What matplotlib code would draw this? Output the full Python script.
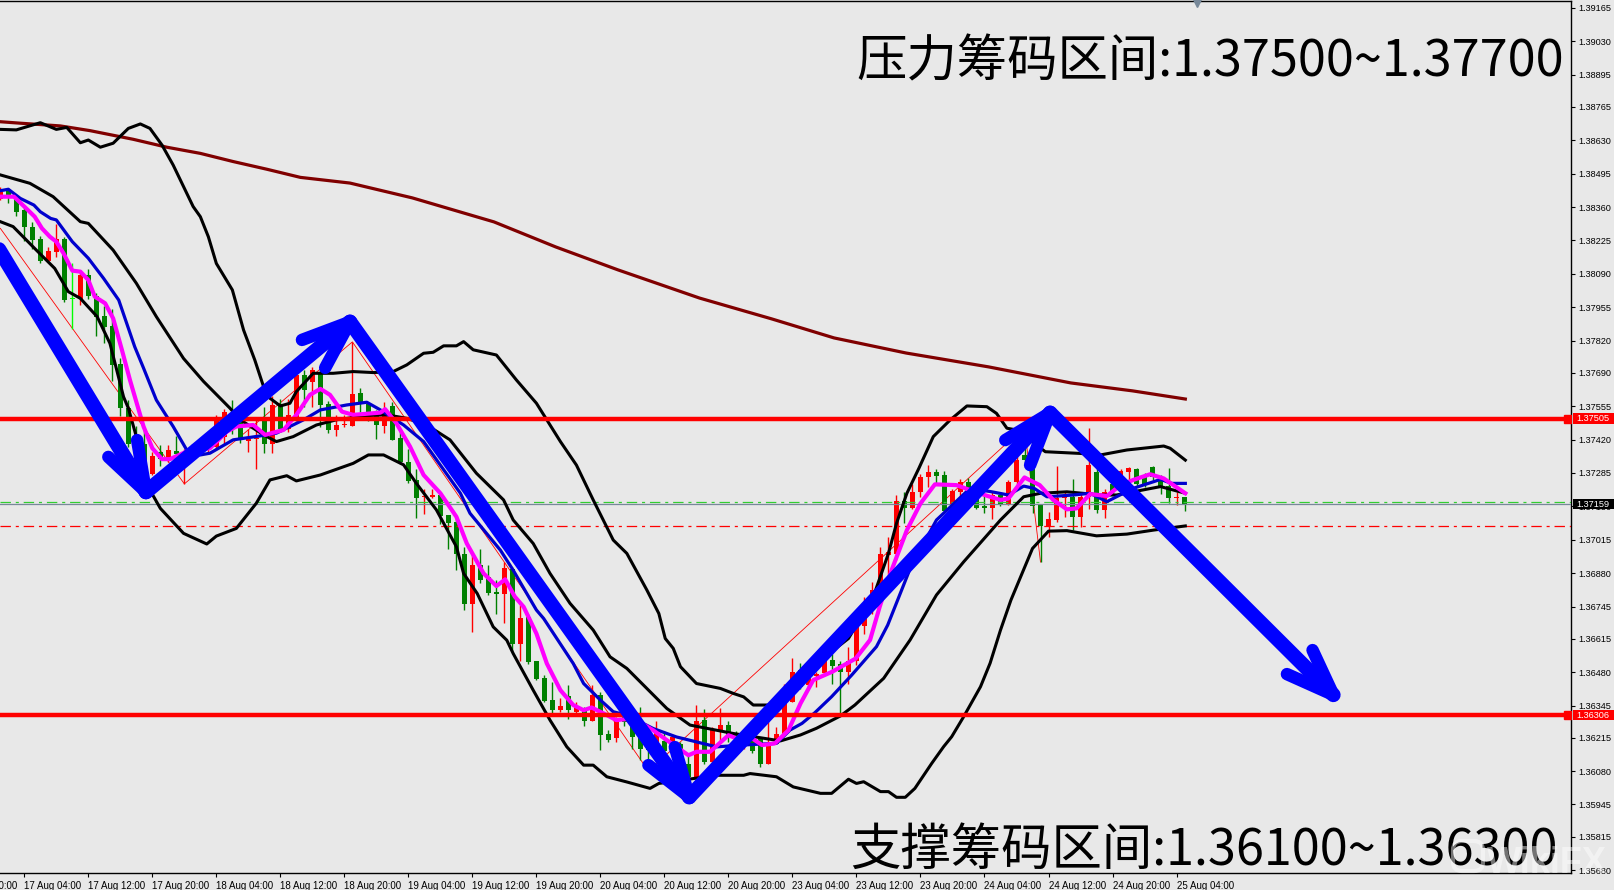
import numpy as np
import matplotlib
matplotlib.use('Agg')
import matplotlib.pyplot as plt
from matplotlib.patches import Rectangle, FancyBboxPatch
from matplotlib.transforms import blended_transform_factory

plt.rcParams['lines.scale_dashes'] = False

######################################################################
# H1 candles, first bar sits 3 bars before the 17 Aug 04:00 tick

candle_kind = ("rgggggrrgl" "rggggggggr" "grgrgrrrrg" "grrgrgrrgr" "ggrrrgggrg"
               "gggrrggggr" "gggrgrgggg" "rgrgrggrgg" "ggrgrggrgr" "rggrggrrrr"
               "grrrggrrrr" "rrrgrrrggr" "rgggrgrrgg" "grrrgrrgrg" "rrgggggrg")

body_top = [
    1.38422, 1.38429, 1.38395, 1.38348, 1.38278, 1.38231, 1.38182, 1.38231, 1.38231, 1.37992,
    1.38085, 1.38085, 1.38001, 1.37920, 1.37878, 1.37727, 1.37549, 1.37430, 1.37403, 1.37352,
    1.37369, 1.37376, 1.37372, 1.37369, 1.37390, 1.37403, 1.37396, 1.37504, 1.37531, 1.37525,
    1.37498, 1.37423, 1.37427, 1.37511, 1.37558, 1.37565, 1.37518, 1.37680, 1.37680, 1.37700,
    1.37687, 1.37562, 1.37477, 1.37484, 1.37606, 1.37610, 1.37562, 1.37531, 1.37531, 1.37554,
    1.37425, 1.37330, 1.37256, 1.37191, 1.37198, 1.37198, 1.37114, 1.37087, 1.36959, 1.36912,
    1.36912, 1.36865, 1.36802, 1.36901, 1.36898, 1.36700, 1.36703, 1.36523, 1.36457, 1.36369,
    1.36345, 1.36385, 1.36338, 1.36331, 1.36389, 1.36389, 1.36230, 1.36284, 1.36298, 1.36277,
    1.36216, 1.36176, 1.36250, 1.36203, 1.36216, 1.36190, 1.36109, 1.36284, 1.36288, 1.36250,
    1.36268, 1.36268, 1.36230, 1.36216, 1.36203, 1.36210, 1.36183, 1.36230, 1.36358, 1.36482,
    1.36490, 1.36462, 1.36473, 1.36527, 1.36530, 1.36511, 1.36527, 1.36662, 1.36730, 1.36811,
    1.36956, 1.36966, 1.37171, 1.37171, 1.37209, 1.37268, 1.37287, 1.37287, 1.37276, 1.37211,
    1.37249, 1.37249, 1.37182, 1.37151, 1.37195, 1.37195, 1.37249, 1.37337, 1.37357, 1.37317,
    1.37155, 1.37097, 1.37182, 1.37198, 1.37188, 1.37188, 1.37317, 1.37290, 1.37209, 1.37242,
    1.37292, 1.37306, 1.37303, 1.37270, 1.37309, 1.37270, 1.37232, 1.37188, 1.37186]

body_bottom = [
    1.38391, 1.38395, 1.38341, 1.38278, 1.38227, 1.38143, 1.38141, 1.38179, 1.37983, 1.37988,
    1.37988, 1.38001, 1.37916, 1.37875, 1.37723, 1.37549, 1.37403, 1.37376, 1.37288, 1.37282,
    1.37342, 1.37342, 1.37362, 1.37356, 1.37369, 1.37369, 1.37376, 1.37390, 1.37430, 1.37471,
    1.37423, 1.37414, 1.37421, 1.37403, 1.37403, 1.37464, 1.37464, 1.37511, 1.37619, 1.37653,
    1.37558, 1.37457, 1.37460, 1.37477, 1.37475, 1.37569, 1.37531, 1.37477, 1.37473, 1.37419,
    1.37330, 1.37252, 1.37184, 1.37186, 1.37188, 1.37110, 1.37083, 1.36959, 1.36754, 1.36754,
    1.36851, 1.36801, 1.36796, 1.36794, 1.36595, 1.36595, 1.36520, 1.36453, 1.36365, 1.36325,
    1.36327, 1.36325, 1.36320, 1.36284, 1.36284, 1.36227, 1.36207, 1.36214, 1.36277, 1.36216,
    1.36169, 1.36165, 1.36176, 1.36163, 1.36190, 1.36122, 1.36055, 1.36055, 1.36118, 1.36118,
    1.36246, 1.36216, 1.36190, 1.36190, 1.36160, 1.36108, 1.36108, 1.36190, 1.36226, 1.36358,
    1.36420, 1.36426, 1.36466, 1.36476, 1.36503, 1.36480, 1.36480, 1.36527, 1.36665, 1.36730,
    1.36797, 1.36952, 1.36959, 1.37144, 1.37144, 1.37209, 1.37267, 1.37272, 1.37132, 1.37128,
    1.37209, 1.37222, 1.37145, 1.37145, 1.37144, 1.37157, 1.37157, 1.37249, 1.37337, 1.37151,
    1.37071, 1.37070, 1.37094, 1.37182, 1.37107, 1.37107, 1.37188, 1.37137, 1.37137, 1.37209,
    1.37242, 1.37290, 1.37242, 1.37242, 1.37267, 1.37229, 1.37184, 1.37183, 1.37157]

wick_high = [
    1.38442, 1.38436, 1.38402, 1.38362, 1.38301, 1.38243, 1.38197, 1.38291, 1.38237, 1.38132,
    1.38102, 1.38109, 1.38011, 1.37959, 1.37946, 1.37751, 1.37581, 1.37473, 1.37457, 1.37369,
    1.37400, 1.37399, 1.37433, 1.37383, 1.37403, 1.37417, 1.37417, 1.37518, 1.37545, 1.37581,
    1.37525, 1.37464, 1.37498, 1.37552, 1.37595, 1.37585, 1.37585, 1.37687, 1.37700, 1.37713,
    1.37700, 1.37578, 1.37518, 1.37518, 1.37815, 1.37630, 1.37572, 1.37538, 1.37572, 1.37572,
    1.37457, 1.37384, 1.37303, 1.37222, 1.37222, 1.37209, 1.37114, 1.37107, 1.36986, 1.36959,
    1.36979, 1.36912, 1.36851, 1.36925, 1.36905, 1.36750, 1.36716, 1.36524, 1.36470, 1.36442,
    1.36374, 1.36426, 1.36358, 1.36338, 1.36426, 1.36401, 1.36246, 1.36298, 1.36318, 1.36291,
    1.36341, 1.36216, 1.36284, 1.36244, 1.36230, 1.36196, 1.36149, 1.36349, 1.36329, 1.36257,
    1.36334, 1.36284, 1.36244, 1.36230, 1.36230, 1.36217, 1.36284, 1.36260, 1.36432, 1.36538,
    1.36516, 1.36486, 1.36480, 1.36547, 1.36554, 1.36527, 1.36581, 1.36716, 1.36784, 1.36844,
    1.36986, 1.37026, 1.37195, 1.37209, 1.37242, 1.37279, 1.37317, 1.37303, 1.37294, 1.37222,
    1.37260, 1.37263, 1.37249, 1.37202, 1.37209, 1.37209, 1.37256, 1.37377, 1.37471, 1.37337,
    1.37159, 1.37128, 1.37313, 1.37209, 1.37260, 1.37209, 1.37465, 1.37371, 1.37222, 1.37256,
    1.37303, 1.37310, 1.37307, 1.37283, 1.37313, 1.37276, 1.37307, 1.37209, 1.37188]

wick_low = [
    1.38388, 1.38375, 1.38325, 1.38224, 1.38189, 1.38135, 1.38139, 1.38159, 1.37977, 1.37869,
    1.37963, 1.37990, 1.37839, 1.37811, 1.37657, 1.37514, 1.37390, 1.37369, 1.37281, 1.37275,
    1.37315, 1.37329, 1.37342, 1.37241, 1.37356, 1.37356, 1.37369, 1.37376, 1.37403, 1.37444,
    1.37406, 1.37369, 1.37302, 1.37365, 1.37365, 1.37450, 1.37450, 1.37497, 1.37551, 1.37551,
    1.37470, 1.37446, 1.37434, 1.37470, 1.37475, 1.37531, 1.37495, 1.37423, 1.37446, 1.37417,
    1.37320, 1.37245, 1.37103, 1.37118, 1.37182, 1.37080, 1.36979, 1.36892, 1.36730, 1.36642,
    1.36840, 1.36790, 1.36713, 1.36678, 1.36565, 1.36527, 1.36514, 1.36449, 1.36358, 1.36311,
    1.36318, 1.36291, 1.36304, 1.36264, 1.36284, 1.36167, 1.36196, 1.36196, 1.36264, 1.36169,
    1.36125, 1.36080, 1.36149, 1.36136, 1.36149, 1.36095, 1.35987, 1.36048, 1.36109, 1.36109,
    1.36203, 1.36196, 1.36176, 1.36169, 1.36152, 1.36095, 1.36108, 1.36190, 1.36226, 1.36358,
    1.36410, 1.36406, 1.36419, 1.36466, 1.36432, 1.36311, 1.36432, 1.36507, 1.36635, 1.36716,
    1.36784, 1.36864, 1.36932, 1.37083, 1.37141, 1.37188, 1.37229, 1.37236, 1.37128, 1.37121,
    1.37168, 1.37195, 1.37141, 1.37124, 1.37097, 1.37151, 1.37155, 1.37236, 1.37317, 1.37124,
    1.36925, 1.37026, 1.37087, 1.37107, 1.37053, 1.37067, 1.37141, 1.37124, 1.37103, 1.37195,
    1.37229, 1.37242, 1.37229, 1.37229, 1.37256, 1.37202, 1.37164, 1.37155, 1.37132]

######################################################################
# indicator lines, read off at the bends

upper_x = [-3, -1, 2, 4, 5.3, 7, 8, 9.5, 11.1, 13, 14.5, 15.7, 17.2, 18.6, 21.1, 22, 23, 24, 26, 27.4,
           28.8, 29.9, 30.7, 32, 33.2, 34, 36.1, 38.6, 41.1, 43.6, 46.1, 47.8, 49.9, 51.1, 52.4, 54,
           54.9, 56.1, 59, 61.5, 64, 67, 69, 71.1, 73.6, 75.3, 77.8, 79.3, 80.1, 81.1, 82, 84, 87, 88.6,
           89.9, 91.1, 93.6, 96, 100, 103, 106.1, 108, 109, 110.3, 111.8, 113.6, 115.7, 117.8, 120.3,
           121.5, 122.8, 124, 127.6, 132, 134.5, 137.8, 142.4, 143.2, 145.1]
upper_y = [1.38674, 1.38672, 1.38701, 1.38674, 1.38682, 1.38620, 1.38631, 1.38602, 1.38618, 1.38678,
           1.38696, 1.38678, 1.38611, 1.38530, 1.38362, 1.38321, 1.38240, 1.38132, 1.38025, 1.37863,
           1.37742, 1.37634, 1.37587, 1.37556, 1.37567, 1.37614, 1.37688, 1.37688, 1.37695, 1.37691,
           1.37695, 1.37722, 1.37769, 1.37773, 1.37799, 1.37799, 1.37816, 1.37783, 1.37762, 1.37661,
           1.37567, 1.37412, 1.37317, 1.37176, 1.37014, 1.36960, 1.36812, 1.36717, 1.36616, 1.36576,
           1.36502, 1.36434, 1.36414, 1.36394, 1.36380, 1.36347, 1.36347, 1.36448, 1.36540, 1.36616,
           1.36785, 1.36960, 1.37081, 1.37203, 1.37304, 1.37432, 1.37499, 1.37556, 1.37553, 1.37526,
           1.37466, 1.37459, 1.37371, 1.37364, 1.37358, 1.37378, 1.37394, 1.37385, 1.37337]

middle_x = [-3, 0.7, 3.6, 7, 8, 11.1, 14, 16.5, 19.9, 22.4, 25.7, 27, 29.9, 31.5, 33.6, 36.5, 39, 42.8,
            45.3, 47.8, 50.3, 53.2, 56.5, 59.9, 61.1, 63.6, 65.7, 68.2, 71.1, 73.2, 75.3, 80.3, 83.2,
            88.6, 94.5, 97, 99, 102, 103.8, 107.4, 110.7, 114, 117.4, 122, 124.9, 127, 130.3, 134.5,
            136.5, 138.6, 142, 145.1]
middle_y = [1.38490, 1.38456, 1.38402, 1.38301, 1.38294, 1.38186, 1.38052, 1.37917, 1.37748, 1.37655,
            1.37547, 1.37500, 1.37439, 1.37412, 1.37432, 1.37479, 1.37500, 1.37517, 1.37520, 1.37506,
            1.37479, 1.37419, 1.37284, 1.37176, 1.37095, 1.37000, 1.36879, 1.36758, 1.36650, 1.36542,
            1.36495, 1.36333, 1.36266, 1.36232, 1.36202, 1.36226, 1.36253, 1.36303, 1.36347, 1.36455,
            1.36610, 1.36792, 1.36926, 1.37095, 1.37189, 1.37203, 1.37209, 1.37196, 1.37196, 1.37209,
            1.37230, 1.37203]

lower_x = [-3, -1.4, 1.5, 3.8, 5.5, 7, 9.1, 10.7, 12.4, 13, 14, 15.7, 17, 19.9, 22.8, 24, 26.5, 29, 30.7,
           32.8, 34, 37, 41.1, 43, 44.9, 47.4, 49, 51.5, 54, 54.9, 56.6, 58.6, 60.3, 61.1, 63.6, 65.7,
           67.8, 69.9, 71.1, 72.8, 75.3, 78.2, 79.3, 86.5, 89.9, 90.7, 94, 96.1, 99.5, 100.9, 103, 104,
           104.9, 107, 108, 109, 110.1, 111.3, 113.4, 114.9, 115.9, 117.4, 119.5, 120.7, 122, 123.3, 126,
           128, 130.3, 134, 137.8, 141.1, 145.1]
lower_y = [1.38301, 1.38281, 1.38186, 1.38112, 1.38018, 1.37991, 1.37917, 1.37809, 1.37593, 1.37547,
           1.37432, 1.37216, 1.37142, 1.37041, 1.36998, 1.37030, 1.37061, 1.37163, 1.37257, 1.37274,
           1.37253, 1.37277, 1.37324, 1.37358, 1.37358, 1.37318, 1.37243, 1.37136, 1.36987, 1.36879,
           1.36798, 1.36663, 1.36609, 1.36555, 1.36407, 1.36286, 1.36178, 1.36104, 1.36104, 1.36057,
           1.36036, 1.36010, 1.36030, 1.36063, 1.36063, 1.36070, 1.36057, 1.36016, 1.35990, 1.35990,
           1.36047, 1.36030, 1.36037, 1.35997, 1.35997, 1.35974, 1.35974, 1.36010, 1.36111, 1.36179,
           1.36219, 1.36300, 1.36421, 1.36516, 1.36650, 1.36771, 1.36980, 1.37050, 1.37052, 1.37031,
           1.37038, 1.37054, 1.37071]

blue_x = [-3, -2, -0.5, 1.2, 2, 3.3, 4, 6, 8, 9.9, 11.8, 13.8, 14.9, 16.5, 18.6, 20.3, 22, 23.2, 26.1,
          29.5, 31.5, 34.9, 37, 40.3, 42.8, 44.5, 47.4, 49.9, 54.5, 55.7, 59.5, 61.1, 64, 64.9, 68.6,
          69.9, 72, 73.6, 75.3, 78.6, 81.5, 84, 86.5, 90.7, 94, 95.7, 97.2, 98.8, 100.9, 103.4, 106.5,
          107.9, 110.8, 114, 118.2, 120.9, 123, 124.9, 126.2, 127.8, 131.1, 133.2, 135.3, 136.5, 138.6,
          142, 143.4, 145.1]
blue_y = [1.38426, 1.38432, 1.38395, 1.38368, 1.38341, 1.38314, 1.38308, 1.38220, 1.38153, 1.38072,
          1.37984, 1.37795, 1.37709, 1.37580, 1.37473, 1.37378, 1.37358, 1.37365, 1.37419, 1.37435,
          1.37446, 1.37500, 1.37540, 1.37560, 1.37571, 1.37540, 1.37479, 1.37412, 1.37203, 1.37122,
          1.36973, 1.36892, 1.36731, 1.36697, 1.36515, 1.36434, 1.36367, 1.36320, 1.36306, 1.36252,
          1.36218, 1.36198, 1.36178, 1.36187, 1.36192, 1.36246, 1.36273, 1.36316, 1.36381, 1.36468,
          1.36583, 1.36670, 1.36906, 1.37095, 1.37223, 1.37209, 1.37196, 1.37232, 1.37223, 1.37189,
          1.37196, 1.37203, 1.37169, 1.37189, 1.37223, 1.37259, 1.37243, 1.37243]

magenta_x = [-3, -1.3, 0, 1.3, 2.2, 3.2, 4, 4.9, 6, 7, 8, 8.8, 10.1, 11.1, 12.2, 13.2, 14.9, 16, 17.2, 18.2,
             20.3, 23.2, 25.3, 26.5, 28.6, 30.1, 32.4, 34, 35.7, 37, 38.2, 39.7, 41.1, 44.5, 45.1, 46.5,
             48.2, 49.9, 52, 54, 55.3, 57.4, 59, 60.1, 61.3, 62.4, 64, 65.3, 67, 68.6, 69.9, 70.9, 72.4,
             74, 76.1, 78.6, 80.3, 83, 84, 85.7, 88, 89, 90.7, 92.2, 93.8, 95.5, 97, 98.6, 101, 103.9,
             105.7, 106.9, 108.4, 110.3, 112, 113.8, 116.5, 118.2, 120.3, 122, 123, 125, 126.9, 128.6,
             130.3, 131.5, 133.2, 135.3, 137, 138.6, 140.7, 142.4, 145.1]
magenta_y = [1.38402, 1.38402, 1.38362, 1.38321, 1.38274, 1.38240, 1.38220, 1.38173, 1.38103, 1.38099,
             1.38065, 1.37998, 1.37971, 1.37910, 1.37782, 1.37661, 1.37473, 1.37385, 1.37341, 1.37341,
             1.37372, 1.37385, 1.37452, 1.37473, 1.37479, 1.37439, 1.37459, 1.37520, 1.37601, 1.37625,
             1.37601, 1.37533, 1.37520, 1.37529, 1.37543, 1.37486, 1.37392, 1.37277, 1.37203, 1.37108,
             1.37000, 1.36879, 1.36828, 1.36855, 1.36785, 1.36744, 1.36636, 1.36515, 1.36407, 1.36347,
             1.36326, 1.36337, 1.36313, 1.36286, 1.36293, 1.36245, 1.36205, 1.36144, 1.36158, 1.36158,
             1.36225, 1.36212, 1.36218, 1.36185, 1.36192, 1.36245, 1.36353, 1.36448, 1.36482, 1.36535,
             1.36610, 1.36744, 1.36893, 1.37054, 1.37162, 1.37239, 1.37236, 1.37216, 1.37193, 1.37176,
             1.37182, 1.37267, 1.37236, 1.37176, 1.37138, 1.37142, 1.37200, 1.37192, 1.37236, 1.37257,
             1.37280, 1.37263, 1.37203]

slow_ma_x = [-3, -0.5, 4.5, 8.2, 13.6, 17.8, 22, 26.1, 30.3, 34.5, 40.7, 48.5, 58.7, 66.4, 74.2, 84.4,
             93.4, 101.2, 110.2, 120.5, 130.8, 138.5, 145.1]
slow_ma_y = [1.38705, 1.38699, 1.38688, 1.38669, 1.38634, 1.38602, 1.38577, 1.38544, 1.38513, 1.38480,
             1.38457, 1.38397, 1.38300, 1.38199, 1.38106, 1.37992, 1.37908, 1.37831, 1.37770, 1.37714,
             1.37649, 1.37617, 1.37584]

zigzag_x = [-3, 20, 41, 78, 125, 127]
zigzag_y = [1.38274, 1.37241, 1.37815, 1.36080, 1.37471, 1.36925]

######################################################################
# levels, hand drawn arrows and axis labels

resistance = 1.37505
support = 1.36306
bid = 1.37159
ask_line = 1.37167
day_line = 1.37071

# each arrow: start bar/price, tip, then two barbs
arrow_bars = [(-4.5, 15.2, 10.5, 14.1), (15.2, 40.7, 34.7, 37.6), (40.7, 83.1, 78, 81.3),
              (83.1, 128.2, 122.6, 125.7), (128.2, 163.6, 157.8, 161)]
arrow_prices = [(1.38260, 1.37208, 1.37350, 1.37418), (1.37208, 1.37896, 1.37823, 1.37710),
                (1.37896, 1.35975, 1.36104, 1.36177), (1.35975, 1.37528, 1.37418, 1.37317),
                (1.37528, 1.36388, 1.36472, 1.36569)]

price_ticks = [1.39165, 1.39030, 1.38895, 1.38765, 1.38630, 1.38495, 1.38360, 1.38225, 1.38090,
               1.37955, 1.37820, 1.37690, 1.37555, 1.37420, 1.37285, 1.37150, 1.37015, 1.36880,
               1.36745, 1.36615, 1.36480, 1.36345, 1.36215, 1.36080, 1.35945, 1.35815, 1.35680]

clipped_label = '16 Aug 20:00'
time_labels = ['17 Aug 04:00', '17 Aug 12:00', '17 Aug 20:00', '18 Aug 04:00',
               '18 Aug 12:00', '18 Aug 20:00', '19 Aug 04:00', '19 Aug 12:00', '19 Aug 20:00',
               '20 Aug 04:00', '20 Aug 12:00', '20 Aug 20:00', '23 Aug 04:00', '23 Aug 12:00',
               '23 Aug 20:00', '24 Aug 04:00', '24 Aug 12:00', '24 Aug 20:00', '25 Aug 04:00']

top_text = '压力筹码区间:1.37500~1.37700'
bottom_text = '支撑筹码区间:1.36100~1.36300'

######################################################################

BG = '#e8e8e8'
W, H = 1614, 890
LABEL_FONT = 'Liberation Sans'
LABEL_SIZE = 7.0
PRICE_SIZE = 6.6

fig = plt.figure(figsize=(W/100, H/100), dpi=100, facecolor=BG)
ax = fig.add_axes([0, 1 - 873/H, 1571/W, 872/H], facecolor=BG)

bars = np.arange(len(body_top)) - 3
top = np.array(body_top)
bottom = np.array(body_bottom)
colors = {'r': '#ff0000', 'g': '#008000', 'l': '#00ff00'}
candle_colors = [colors[k] for k in candle_kind]

# thin zigzag goes under everything
ax.plot(zigzag_x, zigzag_y, color='#ff0000', lw=0.6, zorder=1)

ax.vlines(bars, wick_low, wick_high, colors=candle_colors, lw=1.0, zorder=2)
ax.bar(bars, top - bottom, bottom=bottom, width=0.62, color=candle_colors, lw=0, zorder=2)

dash_dot = (0, (7.5, 3.5, 2.2, 3.5))
ax.axhline(ask_line, color='#32cd32', lw=0.9, ls=dash_dot, zorder=3)
ax.axhline(day_line, color='#ff0000', lw=0.9, ls=dash_dot, zorder=3)
ax.axhline(bid, color='#778899', lw=0.9, zorder=3)

ax.plot(slow_ma_x, slow_ma_y, color='#800000', lw=2.3, zorder=4)
for x, y in [(upper_x, upper_y), (middle_x, middle_y), (lower_x, lower_y)]:
    ax.plot(x, y, color='#000000', lw=2.2, zorder=4)
ax.plot(blue_x, blue_y, color='#0000cd', lw=2.3, zorder=5)
ax.plot(magenta_x, magenta_y, color='#ff00ff', lw=3.0, zorder=6)

ax.axhline(resistance, color='#ff0000', lw=3.2, zorder=7)
ax.axhline(support, color='#ff0000', lw=3.2, zorder=7)
ax.plot([192.9, 192.9], [resistance, support], ls='none', marker='s', ms=5.5, color='#ff0000', zorder=7)

# the brush arrows
for bx, py in zip(arrow_bars, arrow_prices):
    ax.plot(bx[:2], py[:2], color='#0000ff', lw=10.5, solid_capstyle='round', zorder=8)
    for k in (2, 3):
        ax.plot([bx[k], bx[1]], [py[k], py[1]], color='#0000ff', lw=9.0,
                solid_capstyle='round', zorder=8)

ax.plot([146.5], [1.39185], ls='none', marker='v', ms=5.5, color='#778899', zorder=9, clip_on=False)

ax.yaxis.tick_right()
ax.set_yticks(price_ticks)
ax.set_yticklabels(['%.5f' % p for p in price_ticks], fontname=LABEL_FONT, fontsize=PRICE_SIZE)
ax.tick_params(axis='y', length=3, width=0.8, pad=2.5, direction='out', color='black')

tick_bars = np.arange(len(time_labels)) * 8
ax.set_xticks(tick_bars)
ax.set_xticklabels(time_labels, fontname=LABEL_FONT, fontsize=LABEL_SIZE, ha='left')
ax.tick_params(axis='x', length=3, width=0.8, pad=2.5, direction='out', color='black')

# limits last, the tick calls above can widen them
ax.set_xlim(-3.04, 193.3)
ax.set_ylim(1.35668, 1.39193)

# the label of the tick just off the left edge still peeks in
ax.annotate(clipped_label, xy=(-8, 1.35668), xycoords='data', xytext=(0, -5.5),
            textcoords='offset points', fontname=LABEL_FONT, fontsize=LABEL_SIZE, ha='left', va='top',
            annotation_clip=False)

for side in ('top', 'right', 'bottom'):
    ax.spines[side].set_linewidth(1.0)
ax.spines['left'].set_visible(False)

# value flags on the price axis
flag = blended_transform_factory(ax.transAxes, ax.transData)
for level, face, txt in [(resistance, '#ff0000', '1.37505'), (support, '#ff0000', '1.36306'),
                         (bid, '#000000', '1.37159')]:
    ax.add_patch(Rectangle((1.0012, level - 0.00021), 0.03, 0.00042, transform=flag,
                           facecolor=face, lw=0, clip_on=False, zorder=10))
    ax.text(1.0036, level, txt, transform=flag, color='white', fontname=LABEL_FONT, fontsize=PRICE_SIZE,
            va='center', ha='left', clip_on=False, zorder=11)

big_font = ['Noto Sans CJK SC', 'DejaVu Sans']
ax.text(104, 1.38890, top_text, family=big_font, fontsize=36.3, fontweight='medium', color='black',
        va='baseline', ha='left', zorder=12)
ax.text(103.2, 1.35700, bottom_text, family=big_font, fontsize=36.3, fontweight='medium', color='black',
        va='baseline', ha='left', zorder=12)

# faint watermark over the corner, small rounded logo then the name
fig.add_artist(FancyBboxPatch((1453, 19), 30, 30, boxstyle='round,pad=0,rounding_size=9',
                              transform=None, fc='none', ec='white', lw=3, alpha=0.45, zorder=20))
fig.text(1487/W, 1 - 873/H, 'WikiFX', fontname='Liberation Sans', fontweight='bold', fontsize=26,
         color='white', alpha=0.45, va='baseline', ha='left', zorder=20)

fig.savefig('out.png', dpi=100, facecolor=BG)
